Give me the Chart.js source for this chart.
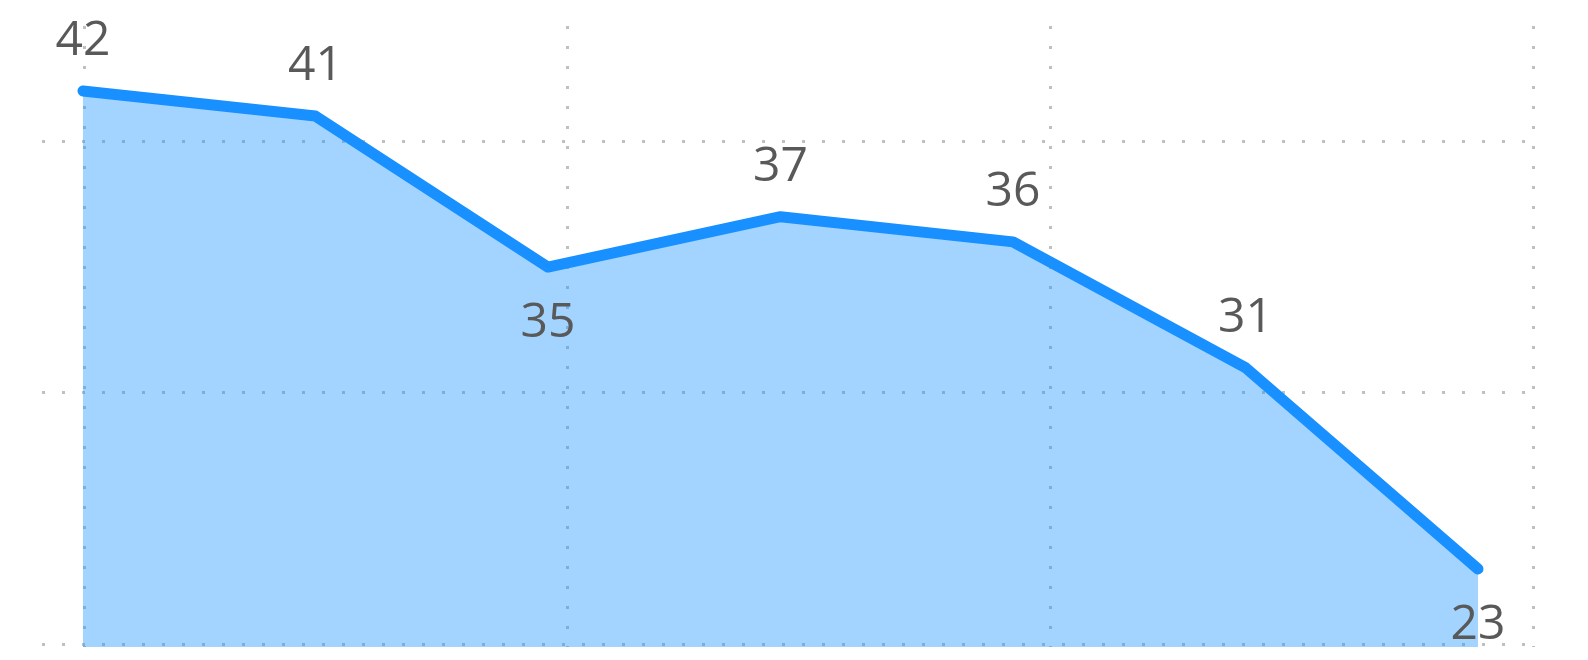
<!DOCTYPE html>
<html>
<head>
<meta charset="utf-8">
<script src="https://cdn.jsdelivr.net/npm/chart.js@4"></script>
<style>
html,body{margin:0;padding:0;background:#fff;}
#wrap{width:1588px;height:660px;position:relative;}
</style>
</head>
<body>
<div id="wrap"><canvas id="c"></canvas></div>
<script>
const categories = [0, 1, 2, 3, 4, 5, 6];
const values = [42, 41, 35, 37, 36, 31, 23];
const yGridTicks = [20, 30, 40];
const xGridTicks = [0, 1, 2, 3];

const labelPlugin = {
  id: 'valueLabels',
  afterDatasetsDraw(chart) {
    const ctx = chart.ctx;
    const meta = chart.getDatasetMeta(0);
    ctx.save();
    ctx.font = '48px "Open Sans", sans-serif';
    ctx.fillStyle = '#595959';
    ctx.textAlign = 'center';
    ctx.textBaseline = 'alphabetic';
    meta.data.forEach((pt, i) => {
      const v = values[i];
      const prev = i > 0 ? values[i - 1] : null;
      const next = i < values.length - 1 ? values[i + 1] : null;
      const below = prev !== null && v < prev && (next === null || v < next);
      const y = below ? pt.y + 70 : pt.y - 36;
      ctx.fillText(String(v), pt.x, y);
    });
    ctx.restore();
  }
};

new Chart(document.getElementById('c'), {
  type: 'line',
  data: {
    datasets: [{
      data: categories.map((c, i) => ({ x: c, y: values[i] })),
      borderColor: '#1890ff',
      backgroundColor: 'rgba(24,144,255,0.4)',
      borderWidth: 11,
      borderCapStyle: 'round',
      borderJoinStyle: 'round',
      fill: 'start',
      tension: 0,
      pointRadius: 0,
      pointHoverRadius: 0,
      xAxisID: 'x',
      yAxisID: 'y'
    }]
  },
  options: {
    responsive: true,
    maintainAspectRatio: false,
    animation: false,
    events: [],
    elements: { line: { borderWidth: 11 } },
    layout: { padding: { left: 42, right: 55, top: 26, bottom: 13 } },
    plugins: { legend: { display: false }, tooltip: { enabled: false }, title: { display: false } },
    scales: {
      x: {
        type: 'linear',
        min: -0.176,
        max: 6.2366,
        display: true,
        ticks: { display: false },
        grid: { display: false, drawTicks: false },
        border: { display: false }
      },
      x2: {
        type: 'linear',
        position: 'bottom',
        min: -0.089,
        max: 3,
        afterBuildTicks: (s) => { s.ticks = xGridTicks.map(v => ({ value: v })); },
        ticks: { display: false },
        grid: { color: '#c0c0c0', lineWidth: 3, drawTicks: false },
        border: { display: false, dash: [3, 17] }
      },
      y: {
        type: 'linear',
        min: 19.9,
        max: 44.58,
        afterBuildTicks: (s) => { s.ticks = yGridTicks.map(v => ({ value: v })); },
        ticks: { display: false },
        grid: { color: '#c0c0c0', lineWidth: 3, drawTicks: false },
        border: { display: false, dash: [3, 17] }
      }
    }
  },
  plugins: [labelPlugin]
});
</script>
</body>
</html>
